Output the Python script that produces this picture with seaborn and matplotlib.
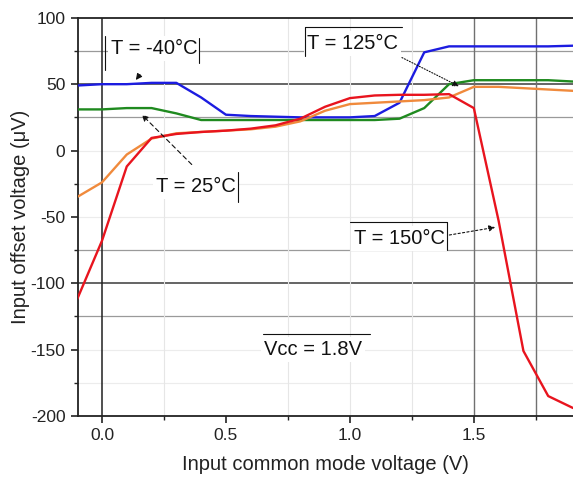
import numpy as np
import pandas as pd
import matplotlib
matplotlib.use("Agg")
import matplotlib.pyplot as plt
import seaborn as sns
from matplotlib.ticker import MultipleLocator

# ---- data ----
vcm = [-0.1, 0.0, 0.1, 0.2, 0.3, 0.4, 0.5, 0.6, 0.7, 0.8, 0.9, 1.0,
       1.1, 1.2, 1.3, 1.4, 1.5, 1.6, 1.7, 1.8, 1.9]
t_m40 = [49, 50, 50, 51, 51, 40, 27, 26, 25.5, 25, 25, 25,
         26, 36, 74, 78.5, 78.5, 78.5, 78.5, 78.5, 79]
t_25 = [31, 31, 32, 32, 28, 23, 23, 23, 23, 23, 23, 23,
        23, 24, 32, 50, 53, 53, 53, 53, 52]
t_125 = [-35, -24, -3, 9, 13, 14, 15, 16, 18, 22, 30, 35,
         36, 37, 38, 40, 48, 48, 47, 46, 45]
t_150 = [-112, -68, -12, 9.5, 12.5, 14, 15, 16.5, 19, 24, 33, 39.5,
         41.5, 42, 42, 42.5, 32, -53, -151, -185, -194]
series_labels = ["T = -40°C", "T = 25°C", "T = 125°C", "T = 150°C"]
series_colors = ["#1c1ce0", "#1f8a1f", "#f08a3c", "#e8141e"]

df = pd.DataFrame({
    "Vcm": vcm * 4,
    "Vos": t_m40 + t_25 + t_125 + t_150,
    "Temp": sum([[lab] * len(vcm) for lab in series_labels], []),
})

# ---- figure ----
sns.set_theme(style="ticks")
plt.rcParams["font.family"] = ["Liberation Sans", "DejaVu Sans"]
plt.rcParams["axes.unicode_minus"] = False

fig = plt.figure(figsize=(5.73, 4.82), dpi=100)
ax = fig.add_axes([0.136, 0.137, 0.864, 0.826])

ax.set_xlim(-0.097, 1.9)
ax.set_ylim(-200, 100)

# grid lines (as in the reference, uneven emphasis)
for y in [-175, -150, -50, -25, 0]:
    ax.axhline(y, color="#ececec", lw=0.8, zorder=0)
for y in [75, 25, -75, -125]:
    ax.axhline(y, color="#9a9a9a", lw=0.9, zorder=0)
for y in [50, -100]:
    ax.axhline(y, color="#4a4a4a", lw=1.2, zorder=0)
for x in [0.25, 0.75, 1.0, 1.25]:
    ax.axvline(x, color="#e6e6e6", lw=0.8, zorder=0)
for x in [1.5, 1.75]:
    ax.axvline(x, color="#707070", lw=1.0, zorder=0)
ax.axvline(0.0, color="#202020", lw=1.1, zorder=0)

sns.lineplot(data=df, x="Vcm", y="Vos", hue="Temp",
             palette=dict(zip(series_labels, series_colors)),
             linewidth=1.7, legend=False, ax=ax, zorder=3)

ax.xaxis.set_major_locator(MultipleLocator(0.5))
ax.xaxis.set_minor_locator(MultipleLocator(0.25))
ax.yaxis.set_major_locator(MultipleLocator(50))
ax.yaxis.set_minor_locator(MultipleLocator(25))
ax.xaxis.set_major_formatter(matplotlib.ticker.FormatStrFormatter("%.1f"))
ax.tick_params(axis="both", which="major", direction="out", length=5,
               width=1.2, labelsize=12.5, colors="#222222", pad=4)
ax.tick_params(axis="both", which="minor", direction="out", length=3,
               width=1.0, colors="#222222")
for s in ["left", "bottom", "top"]:
    ax.spines[s].set_color("#222222")
    ax.spines[s].set_linewidth(1.3)
ax.spines["right"].set_visible(False)

ax.set_xlabel("Input common mode voltage (V)", fontsize=14.5, color="#222222", labelpad=8)
ax.set_ylabel("Input offset voltage (μV)", fontsize=14.5, color="#222222", labelpad=0.5)

# ---- annotations ----
fs = 14.5
tkw = dict(fontsize=fs, color="#111111", ha="center", va="center", zorder=5,
           bbox=dict(boxstyle="square,pad=0.15", fc="white", ec="none"))

# T = -40°C
ax.text(0.21, 77, series_labels[0], **tkw)
ax.annotate("", xy=(0.13, 51.5), xytext=(0.16, 59),
            arrowprops=dict(arrowstyle="-|>", color="#111111", lw=0.8,
                            mutation_scale=9), zorder=5)
ax.plot([0.012, 0.012], [61, 86], color="#111111", lw=0.8, zorder=6)
ax.plot([0.39, 0.39], [66, 85], color="#111111", lw=0.8, zorder=6)

# T = 25°C
ax.text(0.38, -27, series_labels[1], **tkw)
ax.annotate("", xy=(0.153, 28.5), xytext=(0.37, -12),
            arrowprops=dict(arrowstyle="-|>", color="#111111", lw=0.8,
                            linestyle=(0, (4, 3)), mutation_scale=9), zorder=5)
ax.plot([0.548, 0.548], [-39, -16], color="#111111", lw=0.8, zorder=6)

# T = 125°C
ax.text(1.01, 81, series_labels[2], **tkw)
ax.annotate("", xy=(1.45, 47.5), xytext=(1.2, 71),
            arrowprops=dict(arrowstyle="-|>", color="#111111", lw=0.8,
                            linestyle=(0, (1, 1.5)), mutation_scale=9), zorder=5)
ax.plot([0.82, 0.82], [71, 93], color="#111111", lw=0.8, zorder=6)
ax.plot([0.82, 1.21], [93, 93], color="#111111", lw=0.8, zorder=6)

# T = 150°C
ax.text(1.2, -66, series_labels[3], **tkw)
ax.annotate("", xy=(1.597, -57.5), xytext=(1.39, -64),
            arrowprops=dict(arrowstyle="-|>", color="#111111", lw=0.8,
                            linestyle=(0, (2, 2)), mutation_scale=9), zorder=5)
ax.plot([1.0, 1.39], [-54, -54], color="#111111", lw=0.8, zorder=6)
ax.plot([1.39, 1.39], [-54, -75], color="#111111", lw=0.8, zorder=6)

# Vcc = 1.8V
ax.text(0.85, -150, "Vcc = 1.8V", **tkw)
ax.plot([0.65, 1.08], [-138.5, -138.5], color="#111111", lw=0.8, zorder=6)

fig.savefig("out.png", dpi=100)
